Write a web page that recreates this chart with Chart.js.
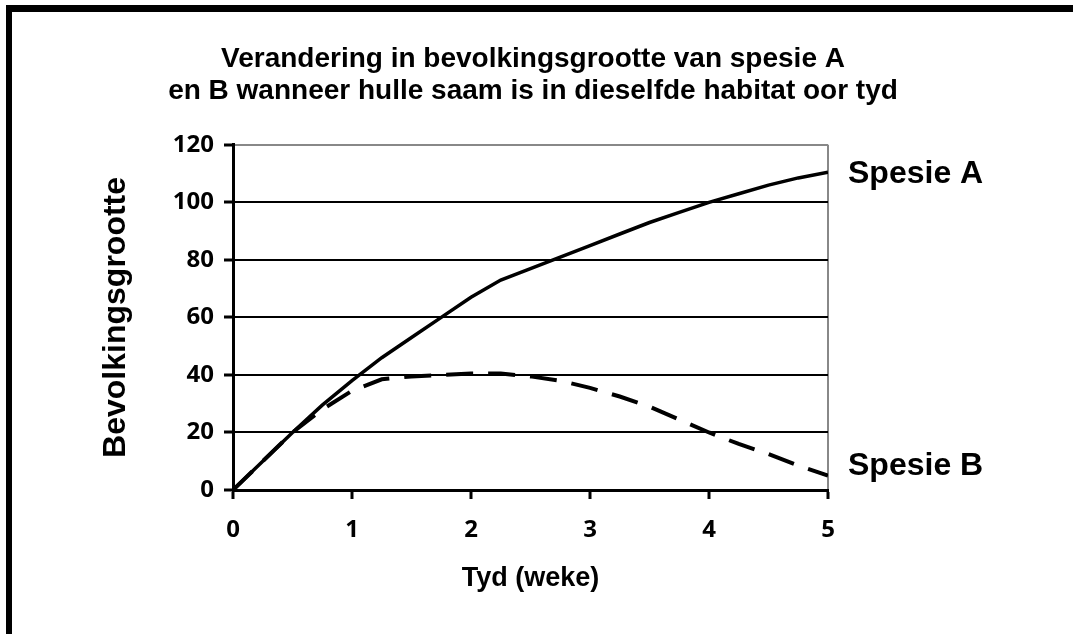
<!DOCTYPE html>
<html>
<head>
<meta charset="utf-8">
<script src="https://cdn.jsdelivr.net/npm/chart.js"></script>
<style>
  body { margin: 0; background: #fff; }
  #frame { position: absolute; left: 6px; top: 5px; width: 1067px; height: 629px;
           border-top: 7px solid #000; border-left: 6px solid #000; box-sizing: border-box; }
  #wrap { position: absolute; left: 0; top: 0; width: 1073px; height: 634px; }
</style>
</head>
<body>
<div id="frame"></div>
<div id="wrap"><canvas id="chart"></canvas></div>
<script>
'use strict';

// tyd in weke
const weeks    = [0, 0.25, 0.5, 0.75, 1, 1.25, 1.5, 1.75, 2, 2.25, 2.5, 2.75, 3, 3.25, 3.5, 3.75, 4, 4.25, 4.5, 4.75, 5];
const spesieA  = [0, 10, 20, 29.5, 38, 46, 53, 60, 67, 73, 77, 81, 85, 89, 93, 96.5, 100, 103, 106, 108.5, 110.5];
const spesieB  = [0, 10, 20, 28, 34.5, 38.5, 39.5, 40, 40.5, 40.5, 39.5, 38, 35.5, 32.5, 29, 24.5, 20, 16, 12.5, 8.5, 5];
const seriesNames = ['Spesie A', 'Spesie B'];
const xTicks = [0, 1, 2, 3, 4, 5];
const yTicks = [0, 20, 40, 60, 80, 100, 120];

const toPoints = (vals) => vals.map((v, i) => ({x: weeks[i], y: v}));

// skryf die naam van elke reeks regs van die grafiek
const endLabels = {
  id: 'endLabels',
  afterDatasetsDraw(chart) {
    const ctx = chart.ctx;
    const area = chart.chartArea;
    ctx.save();
    ctx.font = 'bold 32px "Liberation Sans", Arial, sans-serif';
    ctx.fillStyle = '#000';
    ctx.textBaseline = 'middle';
    ctx.textAlign = 'left';
    chart.data.datasets.forEach((ds) => {
      const last = ds.data[ds.data.length - 1];
      let y = chart.scales.y.getPixelForValue(last.y);
      y = Math.min(y, area.bottom - 26);
      ctx.fillText(ds.label, area.right + 20, y + 2);
    });
    ctx.restore();
  }
};

const tickFont = {family: '"Open Sans", sans-serif', weight: 'bold', size: 24};

new Chart(document.getElementById('chart'), {
  type: 'line',
  data: {
    datasets: [{
      label: seriesNames[0],
      data: toPoints(spesieA),
      borderColor: '#000',
      borderWidth: 3.5,
      pointRadius: 0,
      tension: 0
    }, {
      label: seriesNames[1],
      data: toPoints(spesieB),
      borderColor: '#000',
      borderWidth: 4,
      borderDash: [27, 15],
      pointRadius: 0,
      tension: 0
    }]
  },
  options: {
    responsive: true,
    maintainAspectRatio: false,
    animation: false,
    layout: {padding: {left: 0, right: 7, top: 0, bottom: 0}},
    plugins: {
      legend: {display: false},
      tooltip: {enabled: false},
      title: {
        display: true,
        text: ['Verandering in bevolkingsgrootte van spesie A', 'en B wanneer hulle saam is in dieselfde habitat oor tyd'],
        color: '#000',
        font: {family: '"Liberation Sans", Arial, sans-serif', weight: 'bold', size: 28, lineHeight: 1.14},
        padding: {top: 43, bottom: 38}
      }
    },
    scales: {
      x: {
        type: 'linear',
        min: 0,
        max: 5,
        afterBuildTicks: (s) => { s.ticks = xTicks.map(v => ({value: v})); },
        afterFit: (s) => { s.height = 144; },
        ticks: {color: '#000', font: tickFont, padding: 17},
        grid: {
          color: (c) => c.tick && c.tick.value === 5 ? '#888' : 'rgba(0,0,0,0)',
          lineWidth: 2,
          tickColor: '#000',
          tickWidth: 3,
          tickLength: 9
        },
        border: {display: true, color: '#000', width: 3},
        title: {
          display: true,
          text: 'Tyd (weke)',
          color: '#000',
          font: {family: '"Liberation Sans", Arial, sans-serif', weight: 'bold', size: 27},
          padding: {top: 0, bottom: 39}
        }
      },
      y: {
        min: 0,
        max: 120,
        afterBuildTicks: (s) => { s.ticks = yTicks.map(v => ({value: v})); },
        afterFit: (s) => { s.width = 233; },
        ticks: {color: '#000', font: tickFont, padding: 10},
        grid: {
          color: (c) => c.tick && c.tick.value === 120 ? '#888' : '#000',
          lineWidth: 2,
          tickColor: '#000',
          tickWidth: 3,
          tickLength: 9
        },
        border: {display: true, color: '#000', width: 3},
        title: {
          display: true,
          text: 'Bevolkingsgrootte',
          color: '#000',
          font: {family: '"Liberation Sans", Arial, sans-serif', weight: 'bold', size: 32},
          padding: {top: 97, bottom: 0}
        }
      },
      yRight: {
        position: 'right',
        display: true,
        afterFit: (s) => { s.width = 238; },
        ticks: {display: false},
        grid: {display: false},
        border: {display: false}
      }
    }
  },
  plugins: [endLabels]
});
</script>
</body>
</html>
